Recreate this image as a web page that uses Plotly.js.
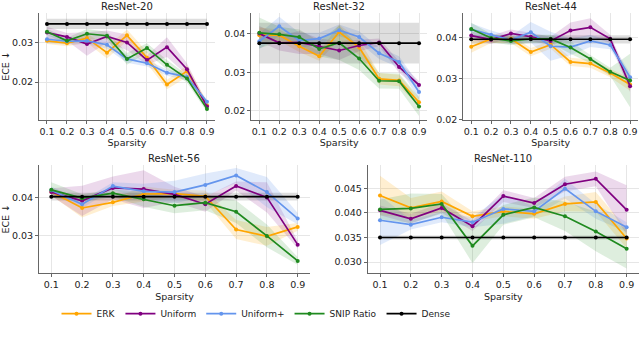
<!DOCTYPE html>
<html>
<head>
<meta charset="utf-8">
<script src="https://cdn.plot.ly/plotly-3.0.1.min.js"></script>
<style>html,body{margin:0;padding:0;background:#fff}#chart{width:640px;height:338px}</style>
</head>
<body>
<div id="chart"></div>
<script>
const sparsity = [0.1,0.2,0.3,0.4,0.5,0.6,0.7,0.8,0.9];
const seriesNames = ['ERK','Uniform','Uniform+','SNIP Ratio','Dense'];
const panelTitles = ['ResNet-20','ResNet-32','ResNet-44','ResNet-56','ResNet-110'];

// ResNet-20
const r20_erk      = [0.0305,0.0299,0.0312,0.0275,0.0319,0.0262,0.0194,0.0228,0.0141];
const r20_erk_sd   = [0.0008,0.0008,0.0012,0.0015,0.0015,0.0015,0.0012,0.0015,0.0010];
const r20_uni      = [0.0326,0.0315,0.0297,0.0316,0.0301,0.0256,0.0289,0.0233,0.0138];
const r20_uni_sd   = [0.0015,0.0010,0.0030,0.0015,0.0020,0.0012,0.0025,0.0015,0.0008];
const r20_unip     = [0.0309,0.0304,0.0305,0.0295,0.0259,0.0248,0.0224,0.0213,0.0150];
const r20_unip_sd  = [0.0010,0.0008,0.0008,0.0010,0.0010,0.0008,0.0008,0.0008,0.0005];
const r20_snip     = [0.0328,0.0305,0.0323,0.0318,0.0259,0.0287,0.0244,0.0209,0.0132];
const r20_snip_sd  = [0.0008,0.0008,0.0012,0.0010,0.0015,0.0012,0.0012,0.0010,0.0008];
const r20_dense    = [0.0348,0.0348,0.0348,0.0348,0.0348,0.0348,0.0348,0.0348,0.0348];
const r20_dense_sd = [0.0013,0.0013,0.0013,0.0013,0.0013,0.0013,0.0013,0.0013,0.0013];

// ResNet-32
const r32_erk      = [0.0397,0.0397,0.0368,0.0342,0.0405,0.0365,0.0283,0.0279,0.0222];
const r32_erk_sd   = [0.0020,0.0015,0.0015,0.0012,0.0020,0.0020,0.0015,0.0015,0.0010];
const r32_uni      = [0.0401,0.0377,0.0378,0.0368,0.0357,0.0370,0.0378,0.0314,0.0267];
const r32_uni_sd   = [0.0020,0.0020,0.0030,0.0020,0.0025,0.0015,0.0010,0.0015,0.0010];
const r32_unip     = [0.0381,0.0420,0.0383,0.0388,0.0410,0.0392,0.0350,0.0327,0.0249];
const r32_unip_sd  = [0.0020,0.0025,0.0020,0.0015,0.0015,0.0015,0.0015,0.0015,0.0020];
const r32_snip     = [0.0403,0.0399,0.0392,0.0361,0.0377,0.0336,0.0278,0.0277,0.0211];
const r32_snip_sd  = [0.0040,0.0020,0.0020,0.0020,0.0045,0.0030,0.0020,0.0020,0.0025];
const r32_dense    = [0.0376,0.0376,0.0376,0.0376,0.0376,0.0376,0.0376,0.0376,0.0376];
const r32_dense_sd = [0.0053,0.0053,0.0053,0.0053,0.0053,0.0053,0.0053,0.0053,0.0053];

// ResNet-44
const r44_erk      = [0.0377,0.0396,0.0396,0.0364,0.0382,0.0340,0.0336,0.0313,0.0285];
const r44_erk_sd   = [0.0015,0.0010,0.0010,0.0010,0.0010,0.0010,0.0010,0.0010,0.0015];
const r44_uni      = [0.0404,0.0394,0.0409,0.0401,0.0391,0.0416,0.0424,0.0396,0.0281];
const r44_uni_sd   = [0.0010,0.0010,0.0010,0.0010,0.0010,0.0020,0.0022,0.0010,0.0015];
const r44_unip     = [0.0419,0.0406,0.0393,0.0412,0.0378,0.0376,0.0391,0.0381,0.0303];
const r44_unip_sd  = [0.0015,0.0010,0.0010,0.0025,0.0035,0.0020,0.0015,0.0010,0.0010];
const r44_snip     = [0.0420,0.0398,0.0391,0.0396,0.0396,0.0375,0.0347,0.0316,0.0295];
const r44_snip_sd  = [0.0015,0.0010,0.0010,0.0010,0.0010,0.0015,0.0010,0.0010,0.0065];
const r44_dense    = [0.0395,0.0395,0.0395,0.0395,0.0395,0.0395,0.0395,0.0395,0.0395];
const r44_dense_sd = [0.0010,0.0010,0.0010,0.0010,0.0010,0.0010,0.0010,0.0010,0.0010];

// ResNet-56
const r56_erk      = [0.0416,0.0373,0.0388,0.0410,0.0411,0.0404,0.0316,0.0298,0.0323];
const r56_erk_sd   = [0.0010,0.0025,0.0010,0.0020,0.0010,0.0015,0.0025,0.0025,0.0010];
const r56_uni      = [0.0415,0.0392,0.0426,0.0423,0.0409,0.0383,0.0431,0.0401,0.0276];
const r56_uni_sd   = [0.0010,0.0040,0.0030,0.0050,0.0020,0.0020,0.0012,0.0040,0.0010];
const r56_unip     = [0.0420,0.0383,0.0431,0.0417,0.0415,0.0434,0.0459,0.0415,0.0345];
const r56_unip_sd  = [0.0010,0.0010,0.0010,0.0020,0.0030,0.0030,0.0020,0.0040,0.0015];
const r56_snip     = [0.0421,0.0399,0.0412,0.0396,0.0379,0.0387,0.0363,0.0299,0.0233];
const r56_snip_sd  = [0.0020,0.0010,0.0010,0.0020,0.0020,0.0020,0.0030,0.0030,0.0010];
const r56_dense    = [0.0403,0.0403,0.0403,0.0403,0.0403,0.0403,0.0403,0.0403,0.0403];
const r56_dense_sd = [0.0010,0.0010,0.0010,0.0010,0.0010,0.0010,0.0010,0.0010,0.0010];

// ResNet-110
const r110_erk      = [0.0435,0.0410,0.0423,0.0393,0.0403,0.0398,0.0418,0.0422,0.0348];
const r110_erk_sd   = [0.0040,0.0020,0.0020,0.0010,0.0010,0.0010,0.0015,0.0020,0.0020];
const r110_uni      = [0.0405,0.0388,0.0410,0.0373,0.0434,0.0420,0.0458,0.0469,0.0406];
const r110_uni_sd   = [0.0010,0.0010,0.0010,0.0010,0.0012,0.0010,0.0015,0.0015,0.0050];
const r110_unip     = [0.0385,0.0376,0.0391,0.0381,0.0408,0.0403,0.0449,0.0403,0.0371];
const r110_unip_sd  = [0.0050,0.0010,0.0010,0.0010,0.0030,0.0010,0.0020,0.0015,0.0010];
const r110_snip     = [0.0407,0.0409,0.0418,0.0333,0.0396,0.0411,0.0393,0.0362,0.0327];
const r110_snip_sd  = [0.0020,0.0030,0.0020,0.0035,0.0020,0.0020,0.0030,0.0040,0.0040];
const r110_dense    = [0.0350,0.0350,0.0350,0.0350,0.0350,0.0350,0.0350,0.0350,0.0350];
const r110_dense_sd = [0.0004,0.0004,0.0004,0.0004,0.0004,0.0004,0.0004,0.0004,0.0004];

const colors = ['#FFA500','#800080','#6495ED','#1f8a1f','#000000'];
const bandColors = ['rgba(255,165,0,0.18)','rgba(128,0,128,0.15)','rgba(100,149,237,0.2)','rgba(31,138,31,0.15)','rgba(0,0,0,0.13)'];

const panels = [
  {ax:'', means:[r20_erk,r20_uni,r20_unip,r20_snip,r20_dense], sds:[r20_erk_sd,r20_uni_sd,r20_unip_sd,r20_snip_sd,r20_dense_sd]},
  {ax:'2', means:[r32_erk,r32_uni,r32_unip,r32_snip,r32_dense], sds:[r32_erk_sd,r32_uni_sd,r32_unip_sd,r32_snip_sd,r32_dense_sd]},
  {ax:'3', means:[r44_erk,r44_uni,r44_unip,r44_snip,r44_dense], sds:[r44_erk_sd,r44_uni_sd,r44_unip_sd,r44_snip_sd,r44_dense_sd]},
  {ax:'4', means:[r56_erk,r56_uni,r56_unip,r56_snip,r56_dense], sds:[r56_erk_sd,r56_uni_sd,r56_unip_sd,r56_snip_sd,r56_dense_sd]},
  {ax:'5', means:[r110_erk,r110_uni,r110_unip,r110_snip,r110_dense], sds:[r110_erk_sd,r110_uni_sd,r110_unip_sd,r110_snip_sd,r110_dense_sd]}
];

const traces = [];
panels.forEach((p, pi) => {
  const xa = 'x' + p.ax, ya = 'y' + p.ax;
  p.means.forEach((m, si) => {
    const sd = p.sds[si];
    const up = m.map((v, i) => v + sd[i]);
    const lo = m.map((v, i) => v - sd[i]);
    traces.push({
      x: sparsity.concat(sparsity.slice().reverse()),
      y: up.concat(lo.slice().reverse()),
      xaxis: xa, yaxis: ya, mode: 'lines', fill: 'toself',
      fillcolor: bandColors[si], line: {width: 0, color: 'rgba(0,0,0,0)'},
      hoverinfo: 'skip', showlegend: false
    });
  });
  p.means.forEach((m, si) => {
    traces.push({
      x: sparsity, y: m, xaxis: xa, yaxis: ya, mode: 'lines+markers',
      name: seriesNames[si], legendgroup: seriesNames[si], showlegend: pi === 0,
      line: {color: colors[si], width: 1.7},
      marker: {color: colors[si], size: 4}
    });
  });
});

const FONT = 'DejaVu Sans';
const tickFont = {family: FONT, size: 9.5, color: '#222'};
function xax(domain, anchor) {
  return {domain: domain, anchor: anchor, range: [0.06, 0.94], tickvals: sparsity, tickformat: '.1f',
    showgrid: true, gridcolor: '#e6e6e6', gridwidth: 1, zeroline: false, showline: true, linecolor: '#666', linewidth: 1,
    ticks: 'outside', ticklen: 3, tickcolor: '#666', tickfont: tickFont,
    title: {text: 'Sparsity', font: {family: FONT, size: 9.5, color: '#222'}, standoff: 3}};
}
function yax(domain, anchor, range, dtick, fmt, title) {
  const a = {domain: domain, anchor: anchor, range: range, dtick: dtick, tick0: 0, tickformat: fmt,
    showgrid: true, gridcolor: '#e6e6e6', gridwidth: 1, zeroline: false, showline: true, linecolor: '#666', linewidth: 1,
    ticks: 'outside', ticklen: 3, tickcolor: '#666', tickfont: tickFont};
  if (title) a.title = {text: title, font: {family: FONT, size: 9.5, color: '#222'}, standoff: 6};
  return a;
}
const topY = [0.6464, 0.963];
const botY = [0.1923, 0.5133];

const annotations = panelTitles.map((t, i) => ({
  text: t, xref: (i === 0 ? 'x' : 'x' + (i + 1)) + ' domain', yref: (i === 0 ? 'y' : 'y' + (i + 1)) + ' domain',
  x: 0.5, y: 1, xanchor: 'center', yanchor: 'bottom', yshift: -1, showarrow: false,
  font: {family: FONT, size: 10, color: '#222'}
}));

const layout = {
  width: 640, height: 338, margin: {l: 0, r: 0, t: 0, b: 0},
  paper_bgcolor: '#fff', plot_bgcolor: '#fff', font: {family: FONT},
  showlegend: true,
  legend: {orientation: 'h', x: 0.40, xanchor: 'center', y: 0.072, yanchor: 'middle',
    font: {family: FONT, size: 9, color: '#222'}, itemwidth: 30, tracegroupgap: 0},
  xaxis:  xax([0.0609, 0.3359], 'y'),
  yaxis:  yax(topY, 'x', [0.0105, 0.0377], 0.01, '.2f', 'ECE ↓'),
  xaxis2: xax([0.3927, 0.6672], 'y2'),
  yaxis2: yax(topY, 'x2', [0.0177, 0.0456], 0.01, '.2f'),
  xaxis3: xax([0.7239, 0.9969], 'y3'),
  yaxis3: yax(topY, 'x3', [0.0200, 0.0460], 0.01, '.2f'),
  xaxis4: xax([0.0609, 0.4844], 'y4'),
  yaxis4: yax(botY, 'x4', [0.0201, 0.0488], 0.01, '.2f', 'ECE ↓'),
  xaxis5: xax([0.5745, 0.9984], 'y5'),
  yaxis5: yax(botY, 'x5', [0.0278, 0.0498], 0.005, '.3f'),
  annotations: annotations
};

Plotly.newPlot('chart', traces, layout, {displayModeBar: false, staticPlot: true});
</script>
</body>
</html>
